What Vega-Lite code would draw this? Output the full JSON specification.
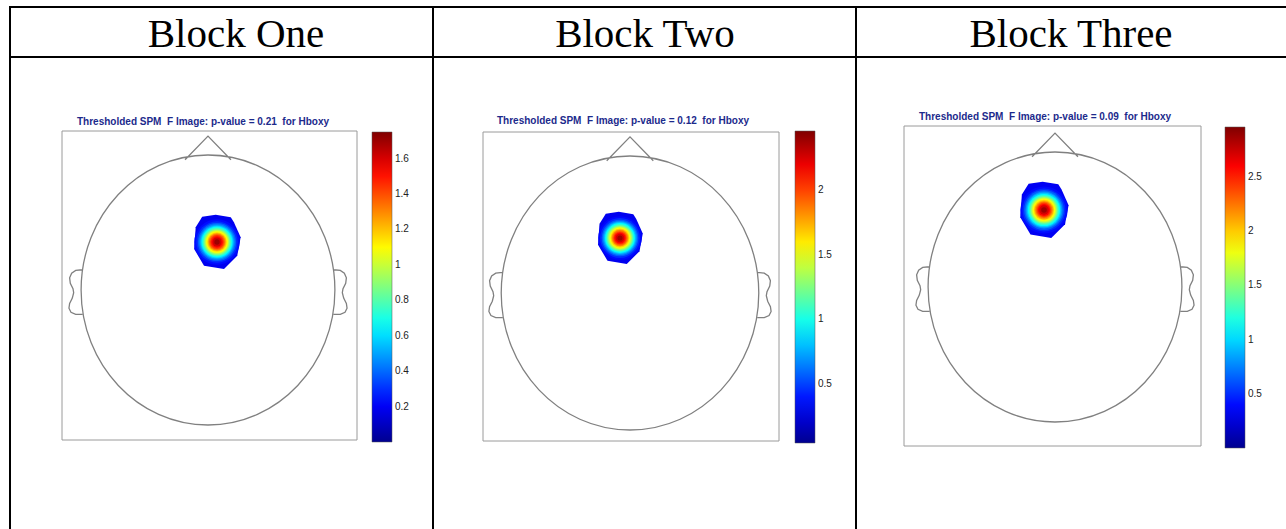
{
 "$schema": "https://vega.github.io/schema/vega-lite/v6.json",
 "width": 1286, "height": 529, "padding": 0, "autosize": {"type": "none"},
 "background": "white",
 "config": {"view": {"stroke": null}, "axis": {"disable": true}},
 "datasets": {
  "lines": [
   {"x": 9, "y": 7, "x2": 1286, "y2": 7},
   {"x": 9, "y": 57, "x2": 1286, "y2": 57},
   {"x": 10, "y": 6, "x2": 10, "y2": 529},
   {"x": 433, "y": 6, "x2": 433, "y2": 529},
   {"x": 856, "y": 6, "x2": 856, "y2": 529}
  ],
  "headers": [
   {"x": 236, "y": 47, "t": "Block One"},
   {"x": 645, "y": 47, "t": "Block Two"},
   {"x": 1071, "y": 47, "t": "Block Three"}
  ],
  "boxes": [
   {"x": 62, "x2": 357, "y": 131, "y2": 440},
   {"x": 483, "x2": 779, "y": 132, "y2": 441},
   {"x": 904, "x2": 1201, "y": 126, "y2": 446}
  ],
  "titles": [
   {"x": 77, "y": 125, "t": "Thresholded SPM \u00a0F Image: p-value = 0.21 \u00a0for Hboxy"},
   {"x": 497, "y": 124, "t": "Thresholded SPM \u00a0F Image: p-value = 0.12 \u00a0for Hboxy"},
   {"x": 919, "y": 120, "t": "Thresholded SPM \u00a0F Image: p-value = 0.09 \u00a0for Hboxy"}
  ],
  "heads": [
   {"b": "One", "cx": 208, "cy": 290, "R": 135},
   {"b": "Two", "cx": 630, "cy": 293, "R": 137},
   {"b": "Three", "cx": 1055, "cy": 287, "R": 135}
  ],
  "blobs": [
   {"b": "One", "cx": 217, "cy": 242, "r": 26, "v": 0.19, "k": "edge"},
   {"b": "One", "cx": 217, "cy": 242, "r": 22.7, "v": 0.24, "k": "ring"},
   {"b": "One", "cx": 217, "cy": 242, "r": 20.7, "v": 0.30, "k": "ring"},
   {"b": "One", "cx": 217, "cy": 242, "r": 19.1, "v": 0.39, "k": "ring"},
   {"b": "One", "cx": 217, "cy": 242, "r": 17.8, "v": 0.47, "k": "ring"},
   {"b": "One", "cx": 217, "cy": 242, "r": 16.6, "v": 0.56, "k": "ring"},
   {"b": "One", "cx": 217, "cy": 242, "r": 15.5, "v": 0.65, "k": "ring"},
   {"b": "One", "cx": 217, "cy": 242, "r": 14.5, "v": 0.74, "k": "ring"},
   {"b": "One", "cx": 217, "cy": 242, "r": 13.5, "v": 0.82, "k": "ring"},
   {"b": "One", "cx": 217, "cy": 242, "r": 12.6, "v": 0.91, "k": "ring"},
   {"b": "One", "cx": 217, "cy": 242, "r": 11.7, "v": 1.00, "k": "ring"},
   {"b": "One", "cx": 217, "cy": 242, "r": 10.8, "v": 1.09, "k": "ring"},
   {"b": "One", "cx": 217, "cy": 242, "r": 9.8, "v": 1.17, "k": "ring"},
   {"b": "One", "cx": 217, "cy": 242, "r": 8.9, "v": 1.26, "k": "ring"},
   {"b": "One", "cx": 217, "cy": 242, "r": 8.0, "v": 1.35, "k": "ring"},
   {"b": "One", "cx": 217, "cy": 242, "r": 6.9, "v": 1.44, "k": "ring"},
   {"b": "One", "cx": 217, "cy": 242, "r": 5.8, "v": 1.52, "k": "ring"},
   {"b": "One", "cx": 217, "cy": 242, "r": 4.5, "v": 1.61, "k": "ring"},
   {"b": "One", "cx": 217, "cy": 242, "r": 2.7, "v": 1.70, "k": "ring"},
   {"b": "Two", "cx": 620, "cy": 238, "r": 25, "v": 0.30, "k": "edge"},
   {"b": "Two", "cx": 620, "cy": 238, "r": 21.8, "v": 0.36, "k": "ring"},
   {"b": "Two", "cx": 620, "cy": 238, "r": 19.9, "v": 0.45, "k": "ring"},
   {"b": "Two", "cx": 620, "cy": 238, "r": 18.3, "v": 0.57, "k": "ring"},
   {"b": "Two", "cx": 620, "cy": 238, "r": 17.1, "v": 0.69, "k": "ring"},
   {"b": "Two", "cx": 620, "cy": 238, "r": 15.9, "v": 0.81, "k": "ring"},
   {"b": "Two", "cx": 620, "cy": 238, "r": 14.9, "v": 0.94, "k": "ring"},
   {"b": "Two", "cx": 620, "cy": 238, "r": 13.9, "v": 1.06, "k": "ring"},
   {"b": "Two", "cx": 620, "cy": 238, "r": 13.0, "v": 1.18, "k": "ring"},
   {"b": "Two", "cx": 620, "cy": 238, "r": 12.1, "v": 1.30, "k": "ring"},
   {"b": "Two", "cx": 620, "cy": 238, "r": 11.2, "v": 1.42, "k": "ring"},
   {"b": "Two", "cx": 620, "cy": 238, "r": 10.4, "v": 1.54, "k": "ring"},
   {"b": "Two", "cx": 620, "cy": 238, "r": 9.4, "v": 1.66, "k": "ring"},
   {"b": "Two", "cx": 620, "cy": 238, "r": 8.5, "v": 1.78, "k": "ring"},
   {"b": "Two", "cx": 620, "cy": 238, "r": 7.7, "v": 1.90, "k": "ring"},
   {"b": "Two", "cx": 620, "cy": 238, "r": 6.6, "v": 2.02, "k": "ring"},
   {"b": "Two", "cx": 620, "cy": 238, "r": 5.6, "v": 2.15, "k": "ring"},
   {"b": "Two", "cx": 620, "cy": 238, "r": 4.3, "v": 2.27, "k": "ring"},
   {"b": "Two", "cx": 620, "cy": 238, "r": 2.6, "v": 2.39, "k": "ring"},
   {"b": "Three", "cx": 1044, "cy": 210, "r": 27, "v": 0.33, "k": "edge"},
   {"b": "Three", "cx": 1044, "cy": 210, "r": 23.6, "v": 0.40, "k": "ring"},
   {"b": "Three", "cx": 1044, "cy": 210, "r": 21.5, "v": 0.50, "k": "ring"},
   {"b": "Three", "cx": 1044, "cy": 210, "r": 19.9, "v": 0.65, "k": "ring"},
   {"b": "Three", "cx": 1044, "cy": 210, "r": 18.5, "v": 0.80, "k": "ring"},
   {"b": "Three", "cx": 1044, "cy": 210, "r": 17.3, "v": 0.95, "k": "ring"},
   {"b": "Three", "cx": 1044, "cy": 210, "r": 16.1, "v": 1.10, "k": "ring"},
   {"b": "Three", "cx": 1044, "cy": 210, "r": 15.1, "v": 1.24, "k": "ring"},
   {"b": "Three", "cx": 1044, "cy": 210, "r": 14.0, "v": 1.39, "k": "ring"},
   {"b": "Three", "cx": 1044, "cy": 210, "r": 13.1, "v": 1.54, "k": "ring"},
   {"b": "Three", "cx": 1044, "cy": 210, "r": 12.2, "v": 1.69, "k": "ring"},
   {"b": "Three", "cx": 1044, "cy": 210, "r": 11.2, "v": 1.84, "k": "ring"},
   {"b": "Three", "cx": 1044, "cy": 210, "r": 10.2, "v": 1.98, "k": "ring"},
   {"b": "Three", "cx": 1044, "cy": 210, "r": 9.3, "v": 2.13, "k": "ring"},
   {"b": "Three", "cx": 1044, "cy": 210, "r": 8.3, "v": 2.28, "k": "ring"},
   {"b": "Three", "cx": 1044, "cy": 210, "r": 7.2, "v": 2.43, "k": "ring"},
   {"b": "Three", "cx": 1044, "cy": 210, "r": 6.0, "v": 2.58, "k": "ring"},
   {"b": "Three", "cx": 1044, "cy": 210, "r": 4.7, "v": 2.72, "k": "ring"},
   {"b": "Three", "cx": 1044, "cy": 210, "r": 2.8, "v": 2.87, "k": "ring"}
  ]
 },
 "resolve": {"scale": {"color": "independent"}},
 "layer": [
  {
   "data": {"name": "lines"},
   "mark": {"type": "rule", "color": "#000000", "strokeWidth": 2},
   "encoding": {
    "x": {"field": "x", "type": "quantitative", "scale": {"domain": [0, 1286], "nice": false, "zero": false}},
    "x2": {"field": "x2"},
    "y": {"field": "y", "type": "quantitative", "scale": {"domain": [0, 529], "reverse": true, "nice": false, "zero": false}},
    "y2": {"field": "y2"}
   }
  },
  {
   "data": {"name": "headers"},
   "mark": {"type": "text", "font": "Liberation Serif", "fontSize": 41, "align": "center", "baseline": "alphabetic", "color": "#000000"},
   "encoding": {
    "x": {"field": "x", "type": "quantitative", "scale": {"domain": [0, 1286], "nice": false, "zero": false}},
    "y": {"field": "y", "type": "quantitative", "scale": {"domain": [0, 529], "reverse": true, "nice": false, "zero": false}},
    "text": {"field": "t", "type": "nominal"}
   }
  },
  {
   "data": {"name": "boxes"},
   "mark": {"type": "rect", "filled": false, "stroke": "#9a9a9a", "strokeWidth": 1},
   "encoding": {
    "x": {"field": "x", "type": "quantitative", "scale": {"domain": [0, 1286], "nice": false, "zero": false}},
    "x2": {"field": "x2"},
    "y": {"field": "y", "type": "quantitative", "scale": {"domain": [0, 529], "reverse": true, "nice": false, "zero": false}},
    "y2": {"field": "y2"}
   }
  },
  {
   "data": {"name": "titles"},
   "mark": {"type": "text", "font": "Liberation Sans", "fontSize": 10, "fontWeight": "bold", "align": "left", "baseline": "alphabetic", "color": "#1c2a8c"},
   "encoding": {
    "x": {"field": "x", "type": "quantitative", "scale": {"domain": [0, 1286], "nice": false, "zero": false}},
    "y": {"field": "y", "type": "quantitative", "scale": {"domain": [0, 529], "reverse": true, "nice": false, "zero": false}},
    "text": {"field": "t", "type": "nominal"}
   }
  },
  {
   "data": {"name": "heads"},
   "mark": {"type": "point", "filled": false, "opacity": 1, "stroke": "#808080", "strokeWidth": 1.3,
            "shape": "M 0.94 0 C 0.94 0.5523 0.519 1 0 1 C -0.519 1 -0.94 0.5523 -0.94 0 C -0.94 -0.5523 -0.519 -1 0 -1 C 0.519 -1 0.94 -0.5523 0.94 0 Z M -0.17 -0.965 L 0 -1.14 L 0.17 -0.965 M -0.93 -0.15 L -0.98 -0.145 L -1.01 -0.125 L -1.025 -0.09 L -1.02 -0.05 L -1 -0.01 L -0.995 0.02 L -1.005 0.06 L -1.025 0.1 L -1.03 0.135 L -1.015 0.165 L -0.98 0.18 L -0.93 0.18 M 0.93 -0.15 L 0.98 -0.145 L 1.01 -0.125 L 1.025 -0.09 L 1.02 -0.05 L 1 -0.01 L 0.995 0.02 L 1.005 0.06 L 1.025 0.1 L 1.03 0.135 L 1.015 0.165 L 0.98 0.18 L 0.93 0.18"},
   "encoding": {
    "x": {"field": "cx", "type": "quantitative", "scale": {"domain": [0, 1286], "nice": false, "zero": false}},
    "y": {"field": "cy", "type": "quantitative", "scale": {"domain": [0, 529], "reverse": true, "nice": false, "zero": false}},
    "size": {"field": "R", "type": "quantitative", "scale": {"type": "pow", "exponent": 2, "domain": [0, 160], "range": [0, 102400], "nice": false, "zero": false}, "legend": null}
   }
  },
  {
   "data": {"name": "blobs"},
   "transform": [{"filter": "datum.b === 'One'"}],
   "mark": {"type": "point", "filled": true, "opacity": 1, "strokeWidth": 0},
   "encoding": {
    "x": {"field": "cx", "type": "quantitative", "scale": {"domain": [0, 1286], "nice": false, "zero": false}},
    "y": {"field": "cy", "type": "quantitative", "scale": {"domain": [0, 529], "reverse": true, "nice": false, "zero": false}},
    "size": {"field": "r", "type": "quantitative", "scale": {"type": "pow", "exponent": 2, "domain": [0, 160], "range": [0, 102400], "nice": false, "zero": false}, "legend": null},
    "shape": {"field": "k", "type": "nominal", "scale": {"domain": ["edge", "ring"], "range": ["M -0.57 -0.97 L -0.05 -1.05 L 0.53 -0.95 L 0.65 -0.76 L 0.91 -0.18 L 0.78 0.53 L 0.27 1.04 L -0.5 0.91 L -0.88 0.27 L -0.82 -0.57 Z", "circle"]}, "legend": null},
    "order": {"field": "r", "sort": "descending"},
    "color": {"field": "v", "type": "quantitative",
     "scale": {"domain": [0, 0.21875, 0.65625, 1.09375, 1.53125, 1.75], "range": ["#00008f", "#0000ff", "#00ffff", "#ffff00", "#ff0000", "#800000"], "interpolate": "rgb"},
     "legend": {"orient": "none", "legendX": 372, "legendY": 132, "direction": "vertical", "gradientLength": 310, "gradientThickness": 20, "values": [0.2, 0.4, 0.6, 0.8, 1, 1.2, 1.4, 1.6], "format": "~g", "title": null, "labelFont": "Liberation Sans", "labelFontSize": 10, "labelColor": "#222222", "labelOffset": 3, "gradientStrokeColor": "#555555", "gradientStrokeWidth": 0.5, "labelOverlap": false, "padding": 0}}
   }
  },
  {
   "data": {"name": "blobs"},
   "transform": [{"filter": "datum.b === 'Two'"}],
   "mark": {"type": "point", "filled": true, "opacity": 1, "strokeWidth": 0},
   "encoding": {
    "x": {"field": "cx", "type": "quantitative", "scale": {"domain": [0, 1286], "nice": false, "zero": false}},
    "y": {"field": "cy", "type": "quantitative", "scale": {"domain": [0, 529], "reverse": true, "nice": false, "zero": false}},
    "size": {"field": "r", "type": "quantitative", "scale": {"type": "pow", "exponent": 2, "domain": [0, 160], "range": [0, 102400], "nice": false, "zero": false}, "legend": null},
    "shape": {"field": "k", "type": "nominal", "scale": {"domain": ["edge", "ring"], "range": ["M -0.57 -0.97 L -0.05 -1.05 L 0.53 -0.95 L 0.65 -0.76 L 0.91 -0.18 L 0.78 0.53 L 0.27 1.04 L -0.5 0.91 L -0.88 0.27 L -0.82 -0.57 Z", "circle"]}, "legend": null},
    "order": {"field": "r", "sort": "descending"},
    "color": {"field": "v", "type": "quantitative",
     "scale": {"domain": [0.04, 0.3425, 0.9475, 1.5525, 2.1575, 2.46], "range": ["#00008f", "#0000ff", "#00ffff", "#ffff00", "#ff0000", "#800000"], "interpolate": "rgb"},
     "legend": {"orient": "none", "legendX": 795, "legendY": 131, "direction": "vertical", "gradientLength": 312, "gradientThickness": 20, "values": [0.5, 1, 1.5, 2], "format": "~g", "title": null, "labelFont": "Liberation Sans", "labelFontSize": 10, "labelColor": "#222222", "labelOffset": 3, "gradientStrokeColor": "#555555", "gradientStrokeWidth": 0.5, "labelOverlap": false, "padding": 0}}
   }
  },
  {
   "data": {"name": "blobs"},
   "transform": [{"filter": "datum.b === 'Three'"}],
   "mark": {"type": "point", "filled": true, "opacity": 1, "strokeWidth": 0},
   "encoding": {
    "x": {"field": "cx", "type": "quantitative", "scale": {"domain": [0, 1286], "nice": false, "zero": false}},
    "y": {"field": "cy", "type": "quantitative", "scale": {"domain": [0, 529], "reverse": true, "nice": false, "zero": false}},
    "size": {"field": "r", "type": "quantitative", "scale": {"type": "pow", "exponent": 2, "domain": [0, 160], "range": [0, 102400], "nice": false, "zero": false}, "legend": null},
    "shape": {"field": "k", "type": "nominal", "scale": {"domain": ["edge", "ring"], "range": ["M -0.57 -0.97 L -0.05 -1.05 L 0.53 -0.95 L 0.65 -0.76 L 0.91 -0.18 L 0.78 0.53 L 0.27 1.04 L -0.5 0.91 L -0.88 0.27 L -0.82 -0.57 Z", "circle"]}, "legend": null},
    "order": {"field": "r", "sort": "descending"},
    "color": {"field": "v", "type": "quantitative",
     "scale": {"domain": [0, 0.37, 1.11, 1.85, 2.59, 2.96], "range": ["#00008f", "#0000ff", "#00ffff", "#ffff00", "#ff0000", "#800000"], "interpolate": "rgb"},
     "legend": {"orient": "none", "legendX": 1225, "legendY": 127, "direction": "vertical", "gradientLength": 321, "gradientThickness": 20, "values": [0.5, 1, 1.5, 2, 2.5], "format": "~g", "title": null, "labelFont": "Liberation Sans", "labelFontSize": 10, "labelColor": "#222222", "labelOffset": 3, "gradientStrokeColor": "#555555", "gradientStrokeWidth": 0.5, "labelOverlap": false, "padding": 0}}
   }
  }
 ]
}
